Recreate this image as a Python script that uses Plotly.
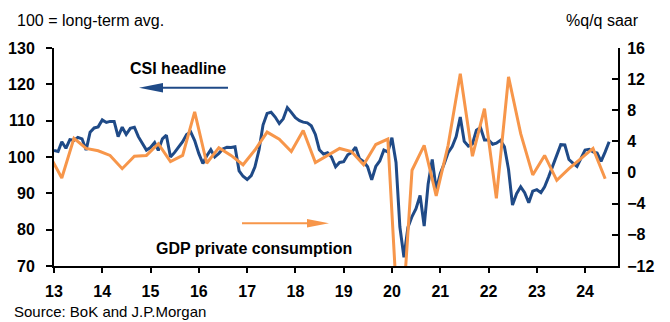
import pandas as pd
import plotly.graph_objects as go

# Consumer sentiment index (monthly, Jan 2013 - Jul 2024), 100 = long-term average
csi_headline = [
    101.8, 101.5, 104.2, 102.4, 104.8, 104.6, 105.4, 105.0, 101.9, 106.8, 108.0, 108.3,  # 2013
    110.2, 109.5, 109.8, 109.8, 105.6, 108.2, 106.2, 107.9, 108.2, 105.6, 103.7, 101.9,  # 2014
    102.6, 104.0, 101.8, 105.0, 106.0, 100.0, 101.2, 102.8, 104.2, 106.2, 106.9, 104.5,  # 2015
    101.0, 98.2, 100.3, 102.0, 100.0, 101.0, 102.2, 102.7, 102.6, 102.8, 96.2, 94.7,     # 2016
    93.8, 94.9, 97.3, 102.0, 108.8, 112.0, 112.3, 111.0, 109.2, 110.5, 113.6, 112.3,     # 2017
    110.8, 110.0, 109.6, 109.4, 108.6, 106.2, 102.0, 100.8, 101.2, 100.0, 97.3, 98.5,    # 2018
    98.7, 100.6, 101.2, 102.7, 99.5, 98.7, 97.3, 93.7, 97.4, 98.9, 101.9, 101.4,         # 2019
    105.3, 98.5, 80.8, 72.4, 80.6, 83.6, 85.8, 89.4, 81.0, 92.6, 99.3, 91.0,             # 2020
    95.5, 98.3, 101.2, 102.9, 105.6, 111.0, 104.3, 103.0, 103.6, 107.4, 108.1, 104.7,    # 2021
    104.7, 103.5, 103.8, 104.6, 102.8, 96.6, 86.8, 89.9, 91.8, 90.2, 87.4, 90.6,         # 2022
    91.0, 90.2, 91.8, 94.6, 97.4, 100.5, 103.4, 103.3, 99.3, 98.3, 97.4, 99.6,           # 2023
    101.9, 102.1, 101.4, 101.1, 98.8, 101.4, 104.2,                                      # 2024
]

# Private consumption, %q/q saar (quarterly, 4Q12 - 2Q24), plotted at quarter-end month
gdp_private_consumption = [
    2.1,                      # 4Q12
    -0.7, 4.4, 3.1, 2.8,      # 2013
    2.2, 0.5, 2.1, 2.2,       # 2014
    3.7, 1.4, 2.2, 7.8,       # 2015
    1.2, 3.2, 2.2, 1.0,       # 2016
    2.9, 5.2, 4.3, 2.7,       # 2017
    5.4, 1.3, 2.2, 3.1,       # 2018
    2.7, 1.0, 3.6, 4.3,       # 2019
    -23.5, 0.3, 3.5, -3.0,    # 2020
    3.5, 12.7, 2.1, 8.2,      # 2021
    -3.3, 12.3, 5.0, -0.3,    # 2022
    2.2, -1.0, 0.5, 1.8,      # 2023
    3.1, -0.8,                # 2024
]

year_ticks = list(range(2013, 2025))
year_labels = [f"{y % 100:02d}" for y in year_ticks]

csi_months = pd.date_range("2013-01-01", periods=len(csi_headline), freq="MS")
gdp_quarters = pd.date_range("2012-12-01", periods=len(gdp_private_consumption), freq="3MS")

NAVY = "#1F4A87"
ORANGE = "#F7964A"
FONT = "Liberation Sans, Arial, sans-serif"

W, H = 670, 322
ML, MR, MT, MB = 54, 52, 48, 56
PW, PH = W - ML - MR, H - MT - MB


def fx(px):
    return (px - ML) / PW


def fy(py):
    return (H - MB - py) / PH


fig = go.Figure()
fig.add_trace(go.Scatter(
    x=csi_months, y=csi_headline, mode="lines", name="CSI headline",
    line=dict(color=NAVY, width=3), yaxis="y",
))
fig.add_trace(go.Scatter(
    x=gdp_quarters, y=gdp_private_consumption, mode="lines",
    name="GDP private consumption",
    line=dict(color=ORANGE, width=3), yaxis="y2",
))

tick_font = dict(family=FONT, size=16, color="black", weight="bold")

fig.update_layout(
    width=W, height=H,
    margin=dict(l=ML, r=MR, t=MT, b=MB, pad=0, autoexpand=False),
    paper_bgcolor="white", plot_bgcolor="white",
    showlegend=False,
    font=dict(family=FONT, color="black"),
    xaxis=dict(
        type="date",
        range=["2013-01-01", "2024-09-06"],
        tickvals=[f"{y}-01-01" for y in year_ticks],
        ticktext=year_labels,
        ticks="outside", ticklen=5, tickwidth=2, tickcolor="black",
        ticklabelstandoff=5,
        showline=True, linewidth=2, linecolor="black",
        showgrid=False, zeroline=False, automargin=False,
        tickfont=tick_font,
    ),
    yaxis=dict(
        range=[70, 130], dtick=10, tick0=70,
        ticks="outside", ticklen=6, tickwidth=2, tickcolor="black",
        ticklabelstandoff=8,
        showline=True, linewidth=2, linecolor="black",
        showgrid=False, zeroline=False, automargin=False,
        tickfont=tick_font,
    ),
    yaxis2=dict(
        range=[-12, 16], dtick=4, tick0=-12,
        overlaying="y", side="right",
        ticks="inside", ticklen=6, tickwidth=2, tickcolor="black",
        ticklabelstandoff=4,
        showline=True, linewidth=2, linecolor="black",
        showgrid=False, zeroline=False, automargin=False,
        tickfont=tick_font,
    ),
)

plain = dict(family=FONT, size=16, color="black")
bold = dict(family=FONT, size=16, color="black", weight="bold")

annotations = [
    dict(text="100 = long-term avg.", x=fx(15), y=fy(20), xanchor="left", yanchor="middle", font=plain),
    dict(text="%q/q saar", x=fx(641), y=fy(21), xanchor="right", yanchor="middle", font=plain),
    dict(text="Source: BoK and J.P.Morgan", x=fx(12), y=fy(311), xanchor="left", yanchor="middle",
         font=dict(family=FONT, size=15, color="black")),
    dict(text="CSI headline", x=fx(178), y=fy(68), xanchor="center", yanchor="middle", font=bold),
    dict(text="GDP private consumption", x=fx(154), y=fy(248), xanchor="left", yanchor="middle", font=bold),
]
for a in annotations:
    a.update(xref="paper", yref="paper", showarrow=False)
fig.update_layout(annotations=annotations)


def arrow(x_tail, x_tip, y, color, head_len, half_h):
    sign = 1 if x_tip > x_tail else -1
    x_base = x_tip - sign * head_len
    return [
        dict(type="line", xref="paper", yref="paper",
             x0=fx(x_tail), y0=fy(y), x1=fx(x_base + sign * 2), y1=fy(y),
             line=dict(color=color, width=2)),
        dict(type="path", xref="paper", yref="paper",
             path=(f"M{fx(x_tip)},{fy(y)} L{fx(x_base)},{fy(y - half_h)} "
                   f"L{fx(x_base)},{fy(y + half_h)} Z"),
             fillcolor=color, line=dict(color=color, width=0)),
    ]


shapes = arrow(228, 139, 87.7, NAVY, 24, 4.7) + arrow(242, 329, 223.3, ORANGE, 22, 4.2)
fig.update_layout(shapes=shapes)

fig.write_html("out.html")
